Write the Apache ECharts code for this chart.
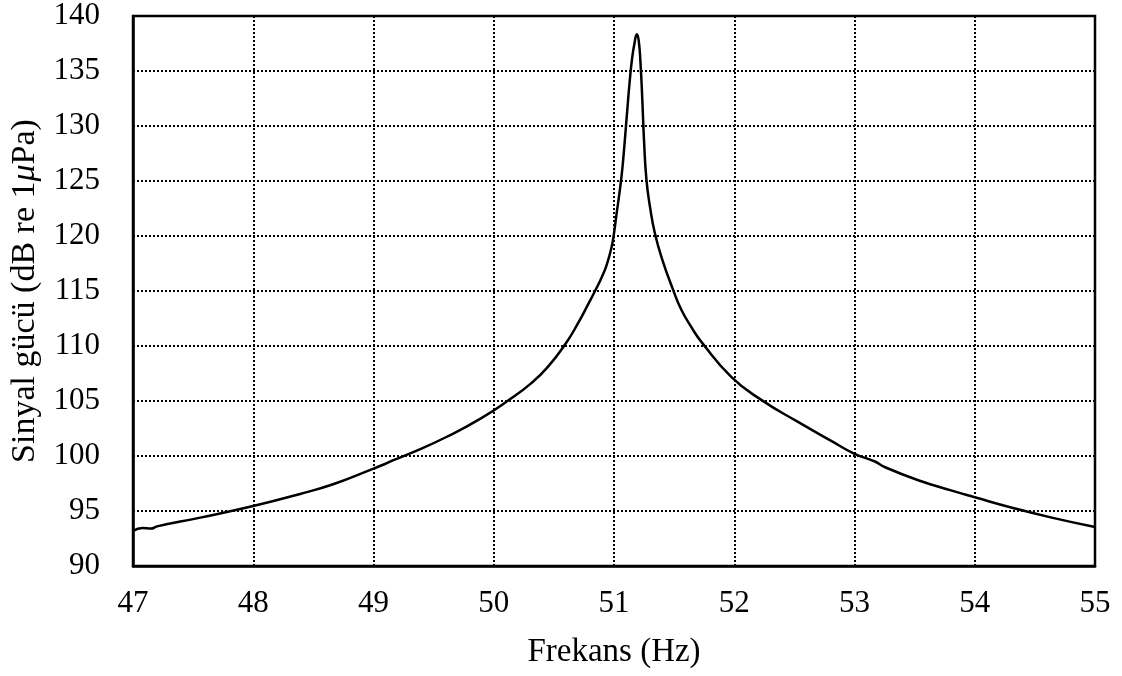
<!DOCTYPE html>
<html lang="tr">
<head>
    <meta charset="UTF-8">
    <title>Sinyal gücü</title>
    <script type="text/javascript" src="https://cdn.jsdelivr.net/npm/echarts@6/dist/echarts.min.js"></script>
    <style>
        body { margin: 0; background: #fff; }
        #container { width: 1122px; height: 676px; }
    </style>
</head>
<body>
<div id="container"></div>
<script type="text/javascript">
    // frekans (Hz) ve sinyal gücü (dB re 1 µPa)
    var frekans = [
        47.00, 47.08, 47.15, 47.20, 47.56, 48.00, 48.39, 48.67, 49.00, 49.09,
        49.16, 49.33, 49.61, 49.89, 50.14, 50.31, 50.45, 50.60, 50.70, 50.79,
        50.84, 50.90, 50.94, 50.98, 51.00, 51.02, 51.05, 51.07, 51.09, 51.11,
        51.13, 51.15, 51.17, 51.19, 51.205, 51.22, 51.235, 51.25, 51.27, 51.30,
        51.34, 51.40, 51.49, 51.56, 51.65, 51.725, 51.975, 52.225, 52.53, 52.81,
        53.00, 53.17, 53.25, 53.53, 53.81, 54.00, 54.31, 54.64, 55.00
    ];
    var guc = [
        93.2, 93.45, 93.4, 93.6, 94.4, 95.45, 96.55, 97.45, 98.85, 99.25,
        99.6, 100.35, 101.75, 103.4, 105.2, 106.6, 108.1, 110.25, 112.05, 113.9,
        114.95, 116.3, 117.4, 119.0, 120.25, 121.9, 124.3, 126.2, 128.7, 131.4,
        134.0, 136.1, 137.5, 138.35, 137.8, 135.8, 132.5, 128.6, 125.1, 122.6,
        120.25, 117.9, 115.15, 113.3, 111.6, 110.4, 107.2, 105.1, 103.1, 101.35,
        100.2, 99.5, 99.0, 97.8, 96.85, 96.25, 95.3, 94.4, 93.55
    ];

    var veri = frekans.map(function (f, i) { return [f, guc[i]]; });

    var font = 'Liberation Serif';
    var myChart = echarts.init(document.getElementById('container'));
    var option = {
        animation: false,
        grid: {
            left: 133, right: 27, top: 16, bottom: 110,
            show: true, borderColor: '#000', borderWidth: 2.5
        },
        xAxis: {
            type: 'value',
            min: 47, max: 55, interval: 1,
            name: 'Frekans (Hz)',
            nameLocation: 'middle',
            nameGap: 70,
            nameTextStyle: { fontFamily: font, fontSize: 33, color: '#000' },
            axisLine: { lineStyle: { color: '#000', width: 2.5 } },
            axisTick: { show: false },
            axisLabel: { margin: 22, fontFamily: font, fontSize: 31, color: '#000' },
            splitLine: { lineStyle: { color: '#000', width: 2, type: [2, 2] } }
        },
        yAxis: {
            type: 'value',
            min: 90, max: 140, interval: 5,
            name: '{n|Sinyal gücü (dB re 1}{i|μ}{n|Pa)}',
            nameLocation: 'middle',
            nameGap: 91,
            nameTextStyle: {
                rich: {
                    n: { fontFamily: font, fontSize: 34, color: '#000' },
                    i: { fontFamily: font, fontSize: 34, color: '#000', fontStyle: 'italic' }
                }
            },
            axisLine: { lineStyle: { color: '#000', width: 2.5 } },
            axisTick: { show: false },
            axisLabel: { margin: 33, fontFamily: font, fontSize: 31, color: '#000' },
            splitLine: { lineStyle: { color: '#000', width: 2, type: [2, 2] } }
        },
        series: [{
            type: 'line',
            data: veri,
            showSymbol: false,
            smooth: 0.5,
            lineStyle: { color: '#000', width: 2.5 }
        }]
    };
    myChart.setOption(option);
</script>
</body>
</html>
